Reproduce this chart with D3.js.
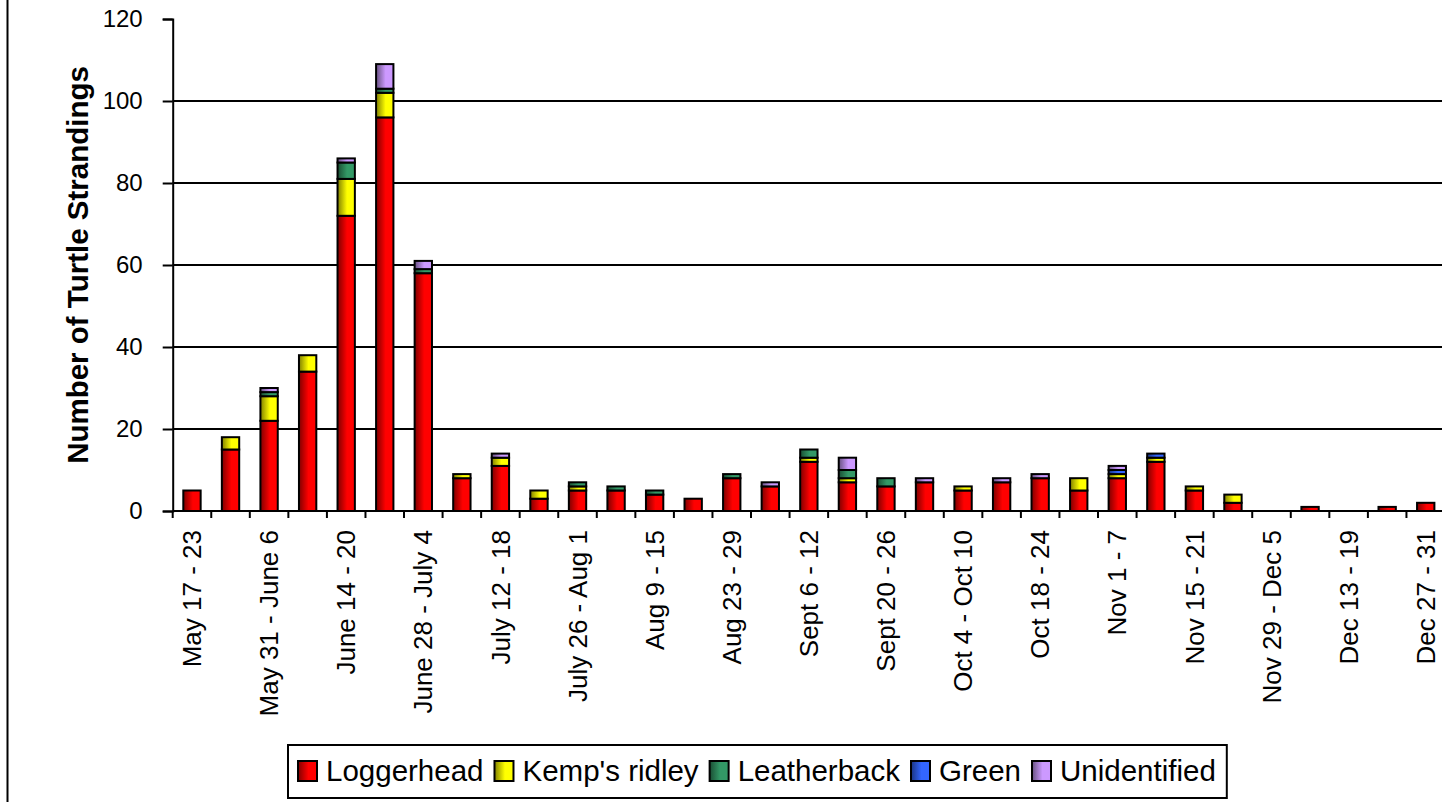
<!DOCTYPE html>
<html>
<head>
<meta charset="utf-8">
<script src="https://cdn.jsdelivr.net/npm/d3@7"></script>
<style>
  body { margin: 0; background: #fff; }
  svg { display: block; font-family: "Liberation Sans", Arial, sans-serif; }
</style>
</head>
<body>
<svg id="chart" width="1442" height="802"></svg>
<script>
const weeks = ['May 17 - 23', 'May 24 - 30', 'May 31 - June 6', 'June 7 - 13', 'June 14 - 20', 'June 21 - 27',
  'June 28 - July 4', 'July 5 - 11', 'July 12 - 18', 'July 19 - 25', 'July 26 - Aug 1', 'Aug 2 - 8',
  'Aug 9 - 15', 'Aug 16 - 22', 'Aug 23 - 29', 'Aug 30 - Sept 5', 'Sept 6 - 12', 'Sept 13 - 19',
  'Sept 20 - 26', 'Sept 27 - Oct 3', 'Oct 4 - Oct 10', 'Oct 11 - 17', 'Oct 18 - 24', 'Oct 25 - 31',
  'Nov 1 - 7', 'Nov 8 - 14', 'Nov 15 - 21', 'Nov 22 - 28', 'Nov 29 - Dec 5', 'Dec 6 - 12',
  'Dec 13 - 19', 'Dec 20 - 26', 'Dec 27 - 31'];

const loggerhead   = [5, 15, 22, 34, 72, 96, 58, 8, 11, 3, 5, 5, 4, 3, 8, 6, 12, 7, 6, 7, 5, 7, 8, 5, 8, 12, 5, 2, 0, 1, 0, 1, 2];
const kempsRidley  = [0, 3, 6, 4, 9, 6, 0, 1, 2, 2, 1, 0, 0, 0, 0, 0, 1, 1, 0, 0, 1, 0, 0, 3, 1, 1, 1, 2, 0, 0, 0, 0, 0];
const leatherback  = [0, 0, 1, 0, 4, 1, 1, 0, 0, 0, 1, 1, 1, 0, 1, 0, 2, 2, 2, 0, 0, 0, 0, 0, 0, 0, 0, 0, 0, 0, 0, 0, 0];
const green        = [0, 0, 0, 0, 0, 0, 0, 0, 0, 0, 0, 0, 0, 0, 0, 0, 0, 0, 0, 0, 0, 0, 0, 0, 1, 1, 0, 0, 0, 0, 0, 0, 0];
const unidentified = [0, 0, 1, 0, 1, 6, 2, 0, 1, 0, 0, 0, 0, 0, 0, 1, 0, 3, 0, 1, 0, 1, 1, 0, 1, 0, 0, 0, 0, 0, 0, 0, 0];

const seriesNames = ['Loggerhead', "Kemp's ridley", 'Leatherback', 'Green', 'Unidentified'];
const seriesColors = ['#ff0000', '#ffff00', '#339966', '#3366ff', '#cc99ff'];
const darkColors = ['#800000', '#808000', '#1a4d33', '#1a3380', '#66507f'];
const yTicks = [0, 20, 40, 60, 80, 100, 120];

const rows = weeks.map((w, i) => ({
  week: w,
  'Loggerhead': loggerhead[i],
  "Kemp's ridley": kempsRidley[i],
  'Leatherback': leatherback[i],
  'Green': green[i],
  'Unidentified': unidentified[i]
}));

const svg = d3.select('#chart');
const plotLeft = 172.7, plotRight = 1445, plotTop = 19, plotBottom = 511;
const lineW = 2;

// gradients, dark on the left like the old Excel fill
const defs = svg.append('defs');
seriesNames.forEach((s, i) => {
  const g = defs.append('linearGradient')
    .attr('id', 'grad' + i)
    .attr('x1', 0).attr('x2', 1).attr('y1', 0).attr('y2', 0);
  g.append('stop').attr('offset', 0).attr('stop-color', darkColors[i]);
  g.append('stop').attr('offset', 0.55).attr('stop-color', seriesColors[i]);
  g.append('stop').attr('offset', 1).attr('stop-color', seriesColors[i]);
});

const x = d3.scaleBand()
  .domain(weeks)
  .range([plotLeft, plotRight])
  .paddingInner(0.55)
  .paddingOuter(0.275);

const y = d3.scaleLinear()
  .domain([0, 120])
  .range([plotBottom, plotTop]);

// outer frame line on the left
svg.append('line')
  .attr('x1', 7.5).attr('x2', 7.5)
  .attr('y1', 0).attr('y2', 802)
  .attr('stroke', '#000').attr('stroke-width', lineW);

// gridlines
svg.append('g')
  .selectAll('line')
  .data(yTicks.filter(t => t > 0 && t < 120))
  .enter()
  .append('line')
  .attr('x1', plotLeft).attr('x2', 1442)
  .attr('y1', d => y(d)).attr('y2', d => y(d))
  .attr('stroke', '#000')
  .attr('stroke-width', lineW);

// stacked bars
const stack = d3.stack().keys(seriesNames);
const layers = stack(rows);

svg.append('g')
  .selectAll('g')
  .data(layers)
  .enter()
  .append('g')
  .attr('fill', (d, i) => `url(#grad${i})`)
  .selectAll('rect')
  .data(d => d.filter(p => p[1] - p[0] > 0))
  .enter()
  .append('rect')
  .attr('x', d => x(d.data.week))
  .attr('y', d => y(d[1]))
  .attr('width', x.bandwidth())
  .attr('height', d => y(d[0]) - y(d[1]))
  .attr('stroke', '#000')
  .attr('stroke-width', lineW);

// y axis
const yAxis = d3.axisLeft(y)
  .tickValues(yTicks)
  .tickSize(10)
  .tickPadding(20);

const yg = svg.append('g')
  .attr('transform', `translate(${plotLeft},0)`)
  .call(yAxis);
yg.select('.domain').attr('stroke', '#000').attr('stroke-width', lineW);
yg.selectAll('.tick line').attr('stroke', '#000').attr('stroke-width', lineW);
yg.selectAll('.tick text')
  .attr('font-size', 24)
  .attr('fill', '#000')
  .attr('font-family', '"Liberation Sans", Arial, sans-serif');

// x axis: baseline, boundary ticks, every second label
svg.append('line')
  .attr('x1', plotLeft).attr('x2', 1442)
  .attr('y1', plotBottom).attr('y2', plotBottom)
  .attr('stroke', '#000').attr('stroke-width', lineW);

const gap = (x.step() - x.bandwidth()) / 2;
const boundaries = weeks.map(w => x(w) - gap).concat([x(weeks[weeks.length - 1]) + x.bandwidth() + gap]);

svg.append('g')
  .selectAll('line')
  .data(boundaries)
  .enter()
  .append('line')
  .attr('x1', d => d).attr('x2', d => d)
  .attr('y1', plotBottom).attr('y2', plotBottom + 7)
  .attr('stroke', '#000').attr('stroke-width', lineW);

svg.append('g')
  .selectAll('text')
  .data(weeks.filter((w, i) => i % 2 === 0))
  .enter()
  .append('text')
  .attr('transform', d => `translate(${x(d) + x.bandwidth() / 2},${plotBottom + 19}) rotate(-90)`)
  .attr('text-anchor', 'end')
  .attr('dy', '0.35em')
  .attr('font-size', 26)
  .attr('fill', '#000')
  .text(d => d);

// y title
svg.append('text')
  .attr('transform', `translate(78,${(plotTop + plotBottom) / 2}) rotate(-90)`)
  .attr('text-anchor', 'middle')
  .attr('dy', '0.35em')
  .attr('font-size', 29.5)
  .attr('font-weight', 'bold')
  .attr('fill', '#000')
  .text('Number of Turtle Strandings');

// legend
const legend = svg.append('g');
const box = legend.append('rect')
  .attr('fill', '#fff')
  .attr('stroke', '#000')
  .attr('stroke-width', lineW);

let cx = 298;
const ly = 771;
seriesNames.forEach((s, i) => {
  legend.append('rect')
    .attr('x', cx).attr('y', ly - 10)
    .attr('width', 19).attr('height', 20)
    .attr('fill', `url(#grad${i})`)
    .attr('stroke', '#000').attr('stroke-width', lineW);
  const t = legend.append('text')
    .attr('x', cx + 28).attr('y', ly)
    .attr('dy', '0.35em')
    .attr('font-size', 29.5)
    .attr('fill', '#000')
    .text(s);
  cx += 28 + t.node().getComputedTextLength() + 11;
});
box.attr('x', 288).attr('y', 745)
  .attr('width', cx - 288)
  .attr('height', 53);
</script>
</body>
</html>
